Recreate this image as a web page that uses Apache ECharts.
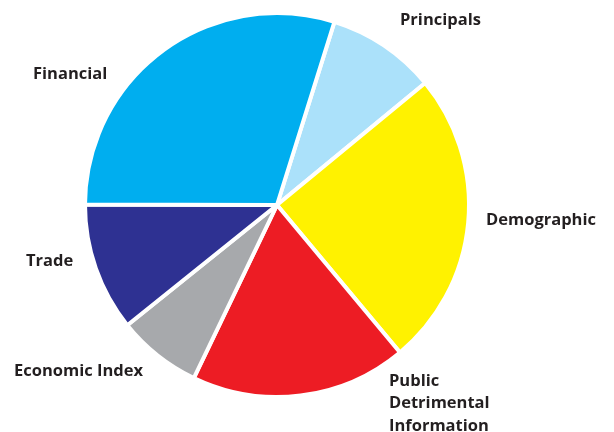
<!DOCTYPE html>
<html>
<head>
<meta charset="utf-8">
<script src="https://cdn.jsdelivr.net/npm/echarts@6/dist/echarts.min.js"></script>
<style>html,body{margin:0;padding:0;background:#fff;}#c{width:614px;height:432px;}</style>
</head>
<body>
<div id="c"></div>
<script>
const categories = ["Principals", "Demographic", "Public Detrimental Information", "Economic Index", "Trade", "Financial"];
const values = [9.2, 24.9, 18.2, 7.1, 10.8, 29.8];
const colors = ["#abe1fa", "#fff200", "#ed1c24", "#a7a9ac", "#2e3192", "#00aeef"];

// label placement (left x, y, vertical anchor)
const labelPos = {
  "Principals": [400, 20, "middle"],
  "Demographic": [486, 220, "middle"],
  "Public Detrimental Information": [389, 370, "top"],
  "Economic Index": [14, 371, "middle"],
  "Trade": [26, 261, "middle"],
  "Financial": [33, 74, "middle"]
};
const wrapped = {"Public Detrimental Information": "Public\nDetrimental\nInformation"};

const chart = echarts.init(document.getElementById('c'), null, {renderer: 'canvas'});
chart.setOption({
  animation: false,
  backgroundColor: '#ffffff',
  series: [{
    type: 'pie',
    center: [277, 205],
    radius: [0, 192],
    startAngle: 72.6,
    clockwise: true,
    data: categories.map((n, i) => ({name: n, value: values[i], itemStyle: {color: colors[i]}})),
    itemStyle: {borderColor: '#ffffff', borderWidth: 4},
    label: {
      show: true,
      position: 'outside',
      overflow: 'none',
      edgeDistance: 0,
      formatter: p => wrapped[p.name] || p.name,
      fontFamily: 'Open Sans',
      fontWeight: 'bold',
      fontSize: 16.5,
      lineHeight: 22.5,
      color: '#231f20'
    },
    labelLine: {show: false},
    labelLayout: function (params) {
      const pos = labelPos[categories[params.dataIndex]];
      return {x: pos[0], y: pos[1], align: 'left', verticalAlign: pos[2], hideOverlap: false};
    },
    emphasis: {disabled: true}
  }]
});
</script>
</body>
</html>
